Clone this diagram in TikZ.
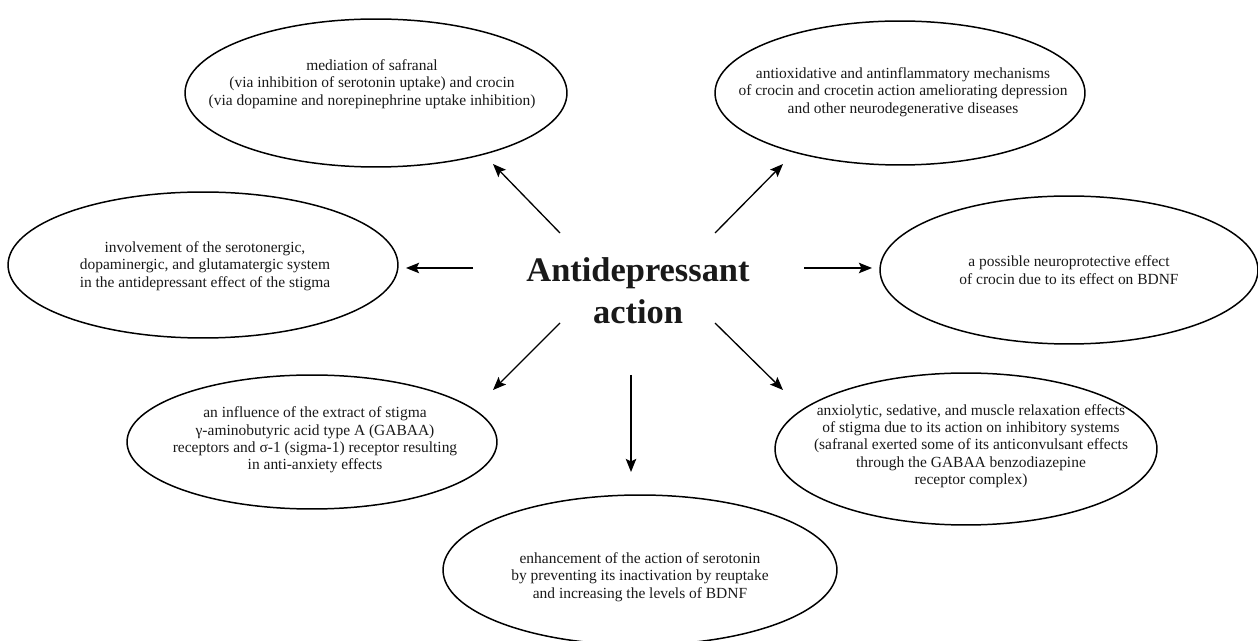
\documentclass[tikz,border=0pt]{standalone}
\usepackage{fontspec}
\setmainfont{Liberation Serif}
\usetikzlibrary{arrows.meta, shapes.geometric}

\begin{document}
\begin{tikzpicture}[x=0.02cm, y=-0.02cm,
    bubble/.style={draw, ellipse, inner sep=0pt, line width=0.85pt},
    txt/.style={align=center, inner sep=0pt, text=black!90, font=\fontsize{8.8}{9.9}\selectfont},
    ray/.style={-{Stealth[length=7.5pt, width=6pt, inset=1.5pt]}, line width=0.75pt}]
  \useasboundingbox (0,0) rectangle (1258,641);

  \node[align=center, text=black!90, font=\bfseries\fontsize{19.6}{23.8}\selectfont] (act) at (638,291) {Antidepressant\\action};

  % outer bubbles
  \node[bubble, minimum width=7.64cm, minimum height=2.96cm] (b1) at (376,93) {};
  \node[txt] (safr) at (372,84) {mediation of safranal\\(via inhibition of serotonin uptake) and crocin\\(via dopamine and norepinephrine uptake inhibition)};

  \node[bubble, minimum width=7.4cm, minimum height=2.88cm] (b2) at (900,93) {};
  \node[txt] (antiox) at (903,92) {antioxidative and antinflammatory mechanisms\\of crocin and crocetin action ameliorating depression\\and other neurodegenerative diseases};

  \node[bubble, minimum width=7.8cm, minimum height=2.92cm] (b3) at (203,265) {};
  \node[txt] (serot) at (205,266) {involvement of the serotonergic,\\dopaminergic, and glutamatergic system\\in the antidepressant effect of the stigma};

  \node[bubble, minimum width=7.56cm, minimum height=2.96cm] (b4) at (1069,270) {};
  \node[txt] (bdnf) at (1069,270) {a possible neuroprotective effect\\of crocin due to its effect on BDNF};

  \node[bubble, minimum width=7.4cm, minimum height=2.68cm] (b5) at (312,442) {};
  \node[txt] (gaba) at (315,440) {an influence of the extract of stigma\\γ-aminobutyric acid type A (GABAA)\\receptors and σ-1 (sigma-1) receptor resulting\\in anti-anxiety effects};

  \node[bubble, minimum width=7.64cm, minimum height=3.04cm] (b6) at (966,449) {};
  \node[txt] (anxio) at (971,446) {anxiolytic, sedative, and muscle relaxation effects\\of stigma due to its action on inhibitory systems\\(safranal exerted some of its anticonvulsant effects\\through the GABAA benzodiazepine\\receptor complex)};

  \node[bubble, minimum width=7.88cm, minimum height=3.0cm] (b7) at (640,570) {};
  \node[txt] (reup) at (640,577) {enhancement of the action of serotonin\\by preventing its inactivation by reuptake\\and increasing the levels of BDNF};

  % arrow ends
  \coordinate (nw) at (560,233);   \coordinate (nwx) at (493,164);
  \coordinate (ne) at (715,233);   \coordinate (nex) at (783,164);
  \coordinate (w) at (473,268);    \coordinate (wx) at (406,268);
  \coordinate (e) at (804,268);    \coordinate (ex) at (872,268);
  \coordinate (sw) at (560,323);   \coordinate (swx) at (493,390);
  \coordinate (se) at (715,323);   \coordinate (sex) at (783,390);
  \coordinate (s) at (631,375);    \coordinate (sx) at (631,472);

  \draw[ray] (nw) -- (nwx);
  \draw[ray] (ne) -- (nex);
  \draw[ray] (w) -- (wx);
  \draw[ray] (e) -- (ex);
  \draw[ray] (sw) -- (swx);
  \draw[ray] (se) -- (sex);
  \draw[ray] (s) -- (sx);
\end{tikzpicture}
\end{document}
